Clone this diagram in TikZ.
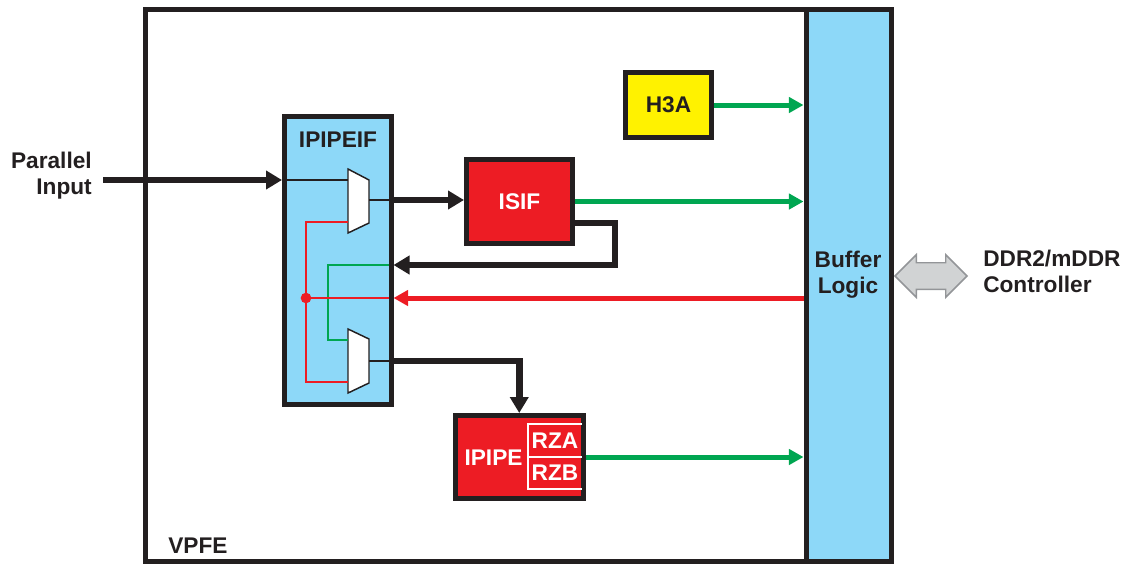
\documentclass[tikz,border=0pt]{standalone}
\usepackage{fontspec}
\setmainfont{Liberation Sans}
\usetikzlibrary{arrows.meta,fit,shapes.arrows}

\definecolor{vpblue}{RGB}{141,216,248}
\definecolor{vpred}{RGB}{237,28,36}
\definecolor{vpgreen}{RGB}{0,166,81}
\definecolor{vpyellow}{RGB}{255,242,0}
\definecolor{vpdark}{RGB}{35,31,32}
\definecolor{linkfill}{RGB}{209,211,212}
\definecolor{linkdraw}{RGB}{147,149,152}

\begin{document}
\begin{tikzpicture}[
  x=0.75pt,y=-0.75pt,
  font=\fontsize{17}{19.5}\selectfont\bfseries,
  text=vpdark,
  box/.style={draw=vpdark,line width=3.75pt,inner sep=0pt},
  feed/.style={-{Triangle[length=12pt,width=13.5pt]},line width=4.9pt,draw=vpdark},
  outgo/.style={-{Triangle[length=11pt,width=11.5pt]},line width=3.75pt,draw=vpgreen},
  back/.style={-{Triangle[length=11pt,width=11.5pt]},line width=3.75pt,draw=vpred},
  wire/.style={line width=1.1pt},
  mux/.style={draw=vpdark,line width=1.1pt,fill=white},
]
  \useasboundingbox (0,0) rectangle (1132,565);

  % Outer frame and buffer column
  \node[box,fit={(145.5,9.5) (806,561.5)}] (vpfe) {};
  \node[box,fill=vpblue,fit={(806,9.5) (891,561.5)}] (buffer) {};
  \node[anchor=base west,inner sep=0pt] (vpfelbl) at (168,553) {VPFE};
  \node[align=center] (buflbl) at (848,275) {Buffer\\Logic};

  % Processing blocks
  \node[box,fill=vpblue,fit={(284.5,116.5) (391,404.5)}] (ipipeif) {};
  \node (ipipeiflbl) at (338,139.5) {IPIPEIF};
  \node[box,fill=vpyellow,fit={(625.5,72.5) (711.5,137.5)}] (h3a) {};
  \node (h3albl) at (h3a.center) {H3A};
  \node[box,fill=vpred,fit={(466.5,159.5) (572.5,243.5)}] (isif) {};
  \node[text=white] (isiflbl) at (isif.center) {ISIF};
  \node[box,fill=vpred,fit={(455.5,415.5) (583,498.5)}] (ipipe) {};
  \node[text=white] (ipipelbl) at (493.5,458) {IPIPE};
  \draw[white,line width=1.5pt] (582,424) -| (528,489) -- (582,489);
  \draw[white,line width=1.5pt] (528,457) -- (582,457);
  \node[text=white] (rza) at (555,441) {RZA};
  \node[text=white] (rzb) at (555,473) {RZB};

  % Muxes inside IPIPEIF
  \draw[mux] (348,169) -- (369,180) -- (369,223) -- (348,233) -- cycle;
  \draw[mux] (348,329) -- (369,339) -- (369,383) -- (348,393) -- cycle;
  \coordinate (m1a) at (348,180);
  \coordinate (m1b) at (348,222);
  \coordinate (m1o) at (369,200);
  \coordinate (m2a) at (348,340);
  \coordinate (m2b) at (348,382);
  \coordinate (m2o) at (369,361);

  % Bend points
  \coordinate (parin) at (103,180);
  \coordinate (isifret) at (572.5,223);
  \coordinate (loopc) at (615,265);
  \coordinate (gbend) at (328,265);
  \coordinate (rdot) at (306,298);

  % Parallel input into ISIF
  \node[anchor=east,align=right,inner sep=0pt] (parlbl) at (92,176) {Parallel\\Input};
  \draw[feed] (parin) -- (parin -| ipipeif.west);
  \draw[wire,draw=vpdark,shorten <=3.75pt] (parin -| ipipeif.west) -- (m1a);
  \draw[wire,draw=vpdark] (m1o) -- (m1o -| ipipeif.east);
  \draw[feed] (m1o -| ipipeif.east) -- (isif.west |- m1o);

  % ISIF loop back
  \draw[feed] (isifret) -| (loopc) -- (loopc -| ipipeif.east);
  \draw[wire,draw=vpgreen,shorten <=3.75pt] (loopc -| ipipeif.east) -- (gbend) |- (m2a);

  % Read back from buffer
  \draw[back] (rdot -| buffer.west) -- (rdot -| ipipeif.east);
  \draw[wire,draw=vpred,shorten <=3.75pt] (rdot -| ipipeif.east) -- (rdot);
  \draw[wire,draw=vpred] (m1b) -| (rdot) |- (m2b);
  \fill[vpred] (rdot) circle[radius=4pt];

  % Into IPIPE
  \draw[wire,draw=vpdark] (m2o) -- (m2o -| ipipeif.east);
  \draw[feed] (m2o -| ipipeif.east) -| (ipipe.north);

  % Outputs to buffer
  \draw[outgo] (h3a.east) -- (h3a.east -| buffer.west);
  \draw[outgo] (isif.east) -- (isif.east -| buffer.west);
  \draw[outgo] (ipipe.east) -- (ipipe.east -| buffer.west);

  % Memory side
  \node[double arrow,draw=linkdraw,fill=linkfill,line width=1.1pt,
    minimum height=54pt,minimum width=30.75pt,double arrow head extend=6pt,
    inner sep=9.4pt] (ddrlink) at (931,276) {};
  \node[anchor=west,align=left,inner sep=0pt] (ddr) at (983,271) {DDR2/mDDR\\Controller};
\end{tikzpicture}
\end{document}
